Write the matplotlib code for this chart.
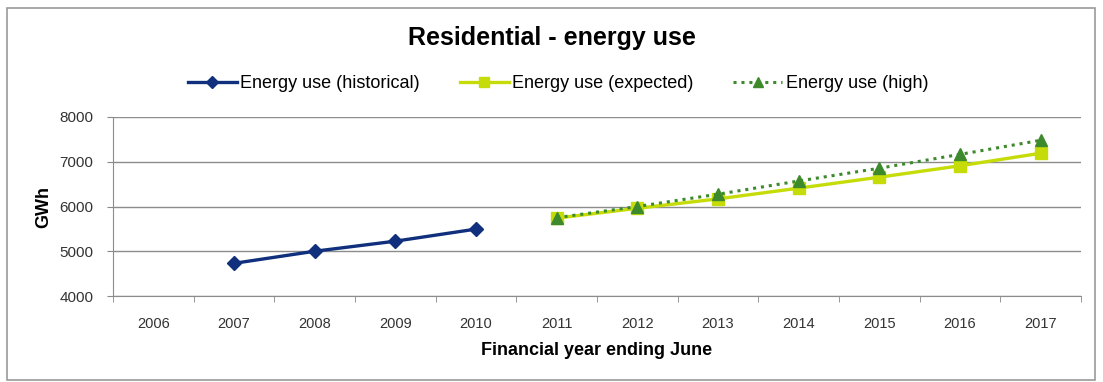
import matplotlib.pyplot as plt
from matplotlib.patches import Rectangle
from matplotlib.ticker import FixedLocator, NullFormatter

plt.rcParams['font.family'] = ['Liberation Sans', 'DejaVu Sans']

years = ['2006', '2007', '2008', '2009', '2010', '2011', '2012',
         '2013', '2014', '2015', '2016', '2017']
hist_years = ['2007', '2008', '2009', '2010']
hist_vals = [4730, 5000, 5225, 5495]
fc_years = ['2011', '2012', '2013', '2014', '2015', '2016', '2017']
expected_vals = [5740, 5960, 6170, 6410, 6655, 6910, 7190]
high_vals = [5750, 6000, 6275, 6570, 6855, 7165, 7480]

fig = plt.figure(figsize=(11.03, 3.82), dpi=100)
fig.patches.append(Rectangle((7 / 1103, 2 / 382), 1088 / 1103, 372 / 382,
                             transform=fig.transFigure, fill=False,
                             edgecolor='#9a9a9a', linewidth=1.2))
ax = fig.add_axes([113 / 1103, 86 / 382, 968 / 1103, 179 / 382])

xi = {y: i for i, y in enumerate(years)}
ax.plot([xi[y] for y in hist_years], hist_vals, color='#102f7c', lw=2.4,
        marker='D', ms=7.5, label='Energy use (historical)')
ax.plot([xi[y] for y in fc_years], expected_vals, color='#c6dc08', lw=2.4,
        marker='s', ms=9, label='Energy use (expected)')
ax.plot([xi[y] for y in fc_years], high_vals, color='#3d8a2c', lw=2.2,
        ls=(0, (1, 1.6)), marker='^', ms=9, label='Energy use (high)')

ax.set_xlim(-0.5, len(years) - 0.5)
ax.set_ylim(4000, 8000)
ax.set_yticks([4000, 5000, 6000, 7000, 8000])
ax.set_xticks(range(len(years)))
ax.set_xticklabels(years)
ax.xaxis.set_minor_locator(FixedLocator([i - 0.5 for i in range(len(years) + 1)]))
ax.xaxis.set_minor_formatter(NullFormatter())
ax.tick_params(axis='x', which='major', length=0, pad=15, labelsize=10.5, colors='#333333')
ax.tick_params(axis='x', which='minor', length=4, color='#888888')
ax.tick_params(axis='y', length=4, pad=10, color='#888888', labelsize=11, colors='#333333')
ax.grid(axis='y', color='#8c8c8c', lw=1)
ax.set_axisbelow(True)
for s in ['top', 'right']:
    ax.spines[s].set_visible(False)
for s in ['left', 'bottom']:
    ax.spines[s].set_color('#8c8c8c')

ax.set_ylabel('GWh', fontsize=13, fontweight='bold', labelpad=5)
ax.set_xlabel('Financial year ending June', fontsize=13, fontweight='bold', labelpad=8)

fig.text(0.5, 1 - 38 / 382, 'Residential - energy use', ha='center', va='center',
         fontsize=18, fontweight='bold')
fig.legend(loc='center', bbox_to_anchor=(0.506, 1 - 84 / 382), ncol=3, frameon=False,
           fontsize=13, handlelength=2.7, handletextpad=0.2, columnspacing=2.2,
           markerscale=0.75)

fig.savefig('out.png', dpi=100)
